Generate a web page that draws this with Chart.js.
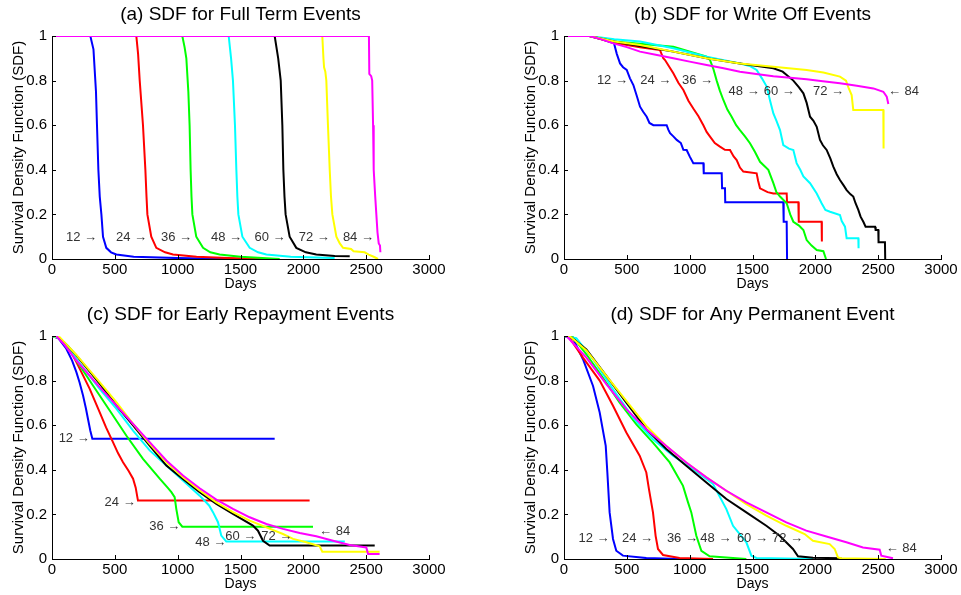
<!DOCTYPE html>
<html>
<head>
<meta charset="utf-8">
<script src="https://cdn.jsdelivr.net/npm/chart.js@4"></script>
<style>
  body { margin: 0; background: #fff; width: 961px; height: 595px; overflow: hidden; position: relative; }
  canvas { position: absolute; }
</style>
</head>
<body>
<canvas id="chartA" width="449" height="297" style="left:0;top:0"></canvas>
<canvas id="chartB" width="449" height="297" style="left:512px;top:0"></canvas>
<canvas id="chartC" width="449" height="297" style="left:0;top:300px"></canvas>
<canvas id="chartD" width="449" height="297" style="left:512px;top:300px"></canvas>
<script>
// loan terms in months, one curve per term
const termMonths = [12, 24, 36, 48, 60, 72, 84]
const xTicks = [0, 500, 1000, 1500, 2000, 2500, 3000]
const yTicks = [0, 0.2, 0.4, 0.6, 0.8, 1]

// (a) full term: [days, sdf] per term
const fullTermCurves = [
    [[0,1],[305,1],[330,0.94],[350,0.75],[358,0.6],[369,0.4],[380,0.28],[393,0.2],[406,0.1],[432,0.05],[470,0.03],[512,0.02],[650,0.01],[1000,0.004],[1400,0]],
    [[0,1],[671,1],[685,0.92],[698,0.8],[724,0.6],[743,0.4],[752,0.28],[759,0.2],[790,0.1],[830,0.05],[900,0.03],[963,0.02],[1150,0.01],[1400,0.004],[1700,0]],
    [[0,1],[1037,1],[1055,0.95],[1069,0.9],[1085,0.75],[1095,0.6],[1103,0.4],[1110,0.28],[1117,0.2],[1148,0.1],[1202,0.05],[1260,0.03],[1334,0.02],[1500,0.01],[1812,0]],
    [[0,1],[1406,1],[1425,0.9],[1440,0.8],[1456,0.6],[1467,0.4],[1475,0.28],[1483,0.2],[1515,0.1],[1573,0.05],[1640,0.03],[1706,0.02],[1900,0.01],[2249,0.004]],
    [[0,1],[1772,1],[1800,0.9],[1820,0.8],[1833,0.6],[1841,0.4],[1850,0.28],[1859,0.2],[1891,0.1],[1944,0.05],[2020,0.03],[2103,0.02],[2250,0.013],[2369,0.012]],
    [[0,1],[2151,1],[2160,0.9],[2165,0.86],[2175,0.84],[2183,0.8],[2196,0.6],[2210,0.4],[2220,0.28],[2231,0.2],[2263,0.1],[2290,0.07],[2316,0.05],[2380,0.045],[2400,0.035],[2488,0.03],[2520,0.02],[2560,0.01],[2594,0]],
    [[0,1],[2522,1],[2525,0.83],[2540,0.82],[2548,0.8],[2555,0.6],[2560,0.4],[2572,0.28],[2581,0.2],[2590,0.12],[2600,0.07],[2610,0.06],[2613,0.03]]
]
const fullTermNotes = ['12 →', '24 →', '36 →', '48 →', '60 →', '72 →', '84 →']
const fullTermNoteDays = [358, 756, 1114, 1512, 1859, 2210, 2562]
const fullTermNoteSdf = [0.095, 0.095, 0.095, 0.095, 0.095, 0.095, 0.095]

// (b) write off
const writeOffCurves = [
    [[0,1],[202,1],[300,0.985],[398,0.967],[420,0.92],[446,0.877],[470,0.86],[499,0.848],[525,0.81],[552,0.78],[580,0.73],[605,0.683],[630,0.66],[658,0.638],[680,0.61],[711,0.6],[817,0.6],[830,0.58],[844,0.564],[870,0.55],[897,0.534],[930,0.52],[950,0.49],[976,0.489],[1000,0.46],[1029,0.429],[1109,0.429],[1112,0.384],[1255,0.384],[1258,0.317],[1281,0.317],[1283,0.254],[1745,0.254],[1748,0.167],[1772,0.167],[1775,0]],
    [[0,1],[202,1],[400,0.97],[605,0.95],[764,0.937],[790,0.9],[804,0.892],[870,0.833],[910,0.79],[950,0.758],[990,0.71],[1029,0.675],[1070,0.64],[1109,0.6],[1135,0.57],[1162,0.549],[1200,0.52],[1241,0.504],[1280,0.49],[1321,0.489],[1350,0.46],[1374,0.444],[1400,0.41],[1427,0.392],[1533,0.384],[1545,0.35],[1560,0.317],[1620,0.3],[1666,0.294],[1772,0.294],[1775,0.254],[1865,0.254],[1868,0.167],[2050,0.167],[2052,0.078]],
    [[0,1],[202,1],[400,0.975],[605,0.965],[870,0.952],[1135,0.907],[1162,0.892],[1190,0.85],[1215,0.8],[1240,0.755],[1268,0.713],[1300,0.67],[1334,0.638],[1370,0.6],[1400,0.578],[1440,0.55],[1480,0.519],[1520,0.48],[1560,0.436],[1626,0.4],[1666,0.34],[1690,0.3],[1719,0.28],[1772,0.25],[1800,0.2],[1825,0.167],[1870,0.15],[1905,0.13],[1931,0.085],[1970,0.06],[2011,0.04],[2064,0.035],[2085,0]],
    [[0,1],[202,1],[400,0.985],[605,0.975],[870,0.945],[1135,0.907],[1400,0.877],[1480,0.865],[1533,0.848],[1575,0.81],[1613,0.773],[1640,0.71],[1666,0.653],[1690,0.62],[1719,0.578],[1745,0.511],[1790,0.495],[1825,0.489],[1851,0.43],[1880,0.4],[1905,0.37],[1958,0.34],[2011,0.294],[2050,0.25],[2080,0.22],[2117,0.212],[2196,0.197],[2210,0.17],[2236,0.145],[2249,0.093],[2342,0.093],[2344,0.048]],
    [[0,1],[202,1],[400,0.975],[605,0.955],[870,0.93],[1135,0.9],[1400,0.877],[1666,0.855],[1740,0.84],[1772,0.825],[1825,0.8],[1870,0.77],[1905,0.743],[1931,0.7],[1958,0.638],[1985,0.62],[2011,0.593],[2037,0.534],[2060,0.51],[2090,0.489],[2120,0.45],[2143,0.414],[2170,0.38],[2196,0.354],[2225,0.33],[2249,0.309],[2280,0.29],[2302,0.28],[2320,0.25],[2342,0.22],[2360,0.19],[2382,0.167],[2400,0.145],[2475,0.145],[2480,0.13],[2501,0.13],[2503,0.075],[2554,0.075],[2556,0]],
    [[0,1],[202,1],[400,0.975],[605,0.96],[870,0.93],[1135,0.9],[1400,0.877],[1666,0.862],[1931,0.848],[2064,0.836],[2196,0.818],[2244,0.8],[2263,0.77],[2289,0.735],[2302,0.668],[2541,0.668],[2543,0.496]],
    [[0,1],[202,1],[300,0.985],[393,0.967],[500,0.95],[605,0.93],[740,0.915],[870,0.9],[1000,0.885],[1135,0.87],[1270,0.855],[1400,0.84],[1530,0.83],[1666,0.82],[1800,0.813],[1931,0.806],[2060,0.797],[2196,0.788],[2330,0.777],[2462,0.765],[2541,0.75],[2568,0.728],[2581,0.695]]
]
const writeOffNotes = ['12 →', '24 →', '36 →', '48 →', '60 →', '72 →', '← 84']
const writeOffNoteDays = [509, 854, 1186, 1557, 1836, 2228, 2578]
const writeOffNoteSdf = [0.8, 0.8, 0.8, 0.75, 0.75, 0.75, 0.75]

// (c) early repayment
const earlyCurves = [
    [[0,1],[50,0.99],[114,0.943],[160,0.89],[194,0.838],[220,0.79],[247,0.733],[270,0.675],[286,0.629],[305,0.575],[321,0.539],[1772,0.539]],
    [[0,1],[61,0.99],[130,0.95],[194,0.883],[250,0.82],[300,0.763],[379,0.659],[430,0.59],[485,0.524],[525,0.475],[565,0.434],[610,0.395],[645,0.36],[666,0.32],[684,0.262],[2050,0.262]],
    [[0,1],[61,0.99],[130,0.95],[194,0.89],[326,0.778],[459,0.666],[591,0.554],[724,0.449],[857,0.36],[920,0.32],[950,0.3],[976,0.277],[989,0.225],[1008,0.165],[1037,0.145],[2077,0.145]],
    [[0,1],[61,0.99],[130,0.955],[194,0.898],[379,0.763],[512,0.674],[645,0.576],[777,0.487],[910,0.419],[1042,0.352],[1175,0.284],[1250,0.24],[1281,0.21],[1321,0.165],[1347,0.105],[1387,0.078],[2330,0.078]],
    [[0,1],[34,1],[100,0.97],[194,0.913],[379,0.786],[512,0.689],[645,0.599],[777,0.509],[910,0.419],[1042,0.359],[1175,0.3],[1308,0.247],[1440,0.202],[1599,0.15],[1639,0.127],[1679,0.082],[1732,0.06],[2568,0.06]],
    [[0,1],[61,0.995],[194,0.915],[379,0.793],[512,0.704],[645,0.606],[777,0.516],[910,0.434],[1042,0.367],[1175,0.307],[1308,0.254],[1440,0.21],[1573,0.172],[1706,0.142],[1838,0.112],[1918,0.09],[2024,0.075],[2130,0.057],[2151,0.033],[2607,0.033]],
    [[0,1],[34,1],[100,0.96],[194,0.89],[379,0.771],[512,0.689],[645,0.606],[777,0.524],[910,0.442],[1042,0.374],[1175,0.317],[1308,0.266],[1440,0.225],[1573,0.187],[1706,0.157],[1838,0.135],[1971,0.117],[2103,0.102],[2236,0.082],[2369,0.063],[2501,0.052],[2515,0.022],[2607,0.022]]
]
const earlyNotes = ['12 →', '24 →', '36 →', '48 →', '60 →', '72 →', '← 84']
const earlyNoteDays = [300, 666, 1021, 1387, 1626, 1912, 2125]
const earlyNoteSdf = [0.539, 0.254, 0.145, 0.075, 0.1, 0.1, 0.123]

// (d) any permanent event
const anyCurves = [
    [[0,1],[72,0.988],[151,0.896],[231,0.776],[284,0.657],[332,0.507],[345,0.388],[363,0.209],[390,0.09],[416,0.037],[469,0.015],[655,0.004],[920,0]],
    [[0,1],[40,0.995],[151,0.903],[284,0.8],[390,0.687],[496,0.567],[602,0.463],[655,0.388],[676,0.313],[708,0.209],[729,0.104],[748,0.045],[788,0.018],[920,0.005],[1186,0]],
    [[0,1],[72,0.995],[178,0.918],[310,0.813],[443,0.701],[576,0.604],[708,0.522],[841,0.433],[947,0.328],[987,0.254],[1013,0.209],[1053,0.104],[1093,0.037],[1159,0.012],[1451,0]],
    [[0,1],[98,0.99],[231,0.896],[390,0.761],[549,0.634],[708,0.537],[867,0.463],[1027,0.403],[1186,0.336],[1292,0.224],[1345,0.149],[1451,0.075],[1491,0.015],[1531,0.005],[1981,0]],
    [[0,1],[45,1],[178,0.94],[337,0.821],[496,0.701],[655,0.582],[814,0.493],[973,0.418],[1133,0.343],[1292,0.269],[1451,0.209],[1610,0.149],[1716,0.104],[1822,0.045],[1862,0.012],[1981,0.006],[2207,0.003]],
    [[0,1],[45,1],[178,0.935],[337,0.821],[496,0.709],[655,0.597],[814,0.507],[973,0.433],[1133,0.366],[1292,0.306],[1451,0.246],[1610,0.194],[1769,0.149],[1915,0.112],[1981,0.082],[2114,0.067],[2154,0.045],[2180,0.007],[2207,0.003],[2560,0]],
    [[0,1],[20,1],[178,0.903],[337,0.784],[496,0.672],[655,0.582],[814,0.507],[973,0.433],[1133,0.366],[1292,0.306],[1451,0.254],[1610,0.209],[1769,0.164],[1928,0.127],[2088,0.101],[2247,0.075],[2379,0.052],[2512,0.042],[2525,0.015],[2618,0.003]]
]
const anyNotes = ['12 →', '24 →', '36 →', '48 →', '60 →', '72 →', '← 84']
const anyNoteDays = [363, 708, 1066, 1332, 1623, 1902, 2560]
const anyNoteSdf = [0.094, 0.094, 0.094, 0.094, 0.094, 0.094, 0.048]

const lineColors = ['#0000ff', '#ff0000', '#00ff00', '#00ffff', '#000000', '#ffff00', '#ff00ff']
const fontFamily = '"Liberation Sans", Arial, Helvetica, sans-serif'

function panelDecor(title, notes, noteDays, noteSdf) {
    return {
        id: 'panelDecor',
        afterDraw(chart) {
            let ctx = chart.ctx
            let area = chart.chartArea
            let xs = chart.scales.x
            let ys = chart.scales.y
            ctx.save()

            // matlab style ticks pointing into the plot
            ctx.strokeStyle = '#000'
            ctx.lineWidth = 1
            ctx.beginPath()
            xTicks.forEach(v => {
                let px = Math.round(xs.getPixelForValue(v)) + 0.5
                ctx.moveTo(px, area.bottom)
                ctx.lineTo(px, area.bottom - 4)
            })
            yTicks.forEach(v => {
                let py = Math.round(ys.getPixelForValue(v)) + 0.5
                ctx.moveTo(area.left, py)
                ctx.lineTo(area.left + 4, py)
            })
            ctx.stroke()

            ctx.fillStyle = '#000'
            ctx.font = '19px ' + fontFamily
            ctx.textAlign = 'center'
            ctx.textBaseline = 'middle'
            ctx.fillText(title, (area.left + area.right) / 2, 15)

            ctx.font = '13px ' + fontFamily
            ctx.fillStyle = '#333'
            notes.forEach((n, i) => {
                ctx.textAlign = n.startsWith('←') ? 'left' : 'right'
                ctx.fillText(n, xs.getPixelForValue(noteDays[i]), ys.getPixelForValue(noteSdf[i]))
            })
            ctx.restore()
        }
    }
}

function makePanel(id, title, curves, notes, noteDays, noteSdf) {
    let datasets = curves.map((c, i) => ({
        label: termMonths[i] + ' months',
        data: c.map(p => ({ x: p[0], y: p[1] })),
        borderColor: lineColors[i],
        borderWidth: 2,
        pointRadius: 0,
        tension: 0,
        fill: false,
        order: curves.length - i
    }))

    new Chart(document.getElementById(id), {
        type: 'line',
        data: { datasets: datasets },
        options: {
            responsive: false,
            animation: false,
            events: [],
            layout: { padding: { top: 36, left: 10, right: 20, bottom: 0 } },
            plugins: { legend: { display: false }, tooltip: { enabled: false } },
            scales: {
                x: {
                    type: 'linear',
                    min: 0,
                    max: 3000,
                    afterBuildTicks: s => { s.ticks = xTicks.map(v => ({ value: v })) },
                    afterFit: s => { s.height = 38 },
                    ticks: {
                        callback: v => String(v),
                        autoSkip: false,
                        maxRotation: 0,
                        padding: 2,
                        color: '#000',
                        font: { family: fontFamily, size: 15 }
                    },
                    grid: { display: false, drawTicks: false },
                    border: { display: true, color: '#000', width: 1 },
                    title: {
                        display: true,
                        text: 'Days',
                        color: '#000',
                        padding: { top: 0, bottom: 4 },
                        font: { family: fontFamily, size: 14 }
                    }
                },
                y: {
                    type: 'linear',
                    min: 0,
                    max: 1,
                    afterBuildTicks: s => { s.ticks = yTicks.map(v => ({ value: v })) },
                    afterFit: s => { s.width = 42 },
                    ticks: {
                        callback: v => (v === 0 || v === 1) ? String(v) : v.toFixed(1),
                        padding: 5,
                        color: '#000',
                        font: { family: fontFamily, size: 15 }
                    },
                    grid: { display: false, drawTicks: false },
                    border: { display: true, color: '#000', width: 1 },
                    title: {
                        display: true,
                        text: 'Survival Density Function (SDF)',
                        color: '#000',
                        padding: { top: 0, bottom: 0 },
                        font: { family: fontFamily, size: 15 }
                    }
                }
            }
        },
        plugins: [panelDecor(title, notes, noteDays, noteSdf)]
    })
}

makePanel('chartA', '(a) SDF for Full Term Events', fullTermCurves, fullTermNotes, fullTermNoteDays, fullTermNoteSdf)
makePanel('chartB', '(b) SDF for Write Off Events', writeOffCurves, writeOffNotes, writeOffNoteDays, writeOffNoteSdf)
makePanel('chartC', '(c) SDF for Early Repayment Events', earlyCurves, earlyNotes, earlyNoteDays, earlyNoteSdf)
makePanel('chartD', '(d) SDF for Any Permanent Event', anyCurves, anyNotes, anyNoteDays, anyNoteSdf)
</script>
</body>
</html>
